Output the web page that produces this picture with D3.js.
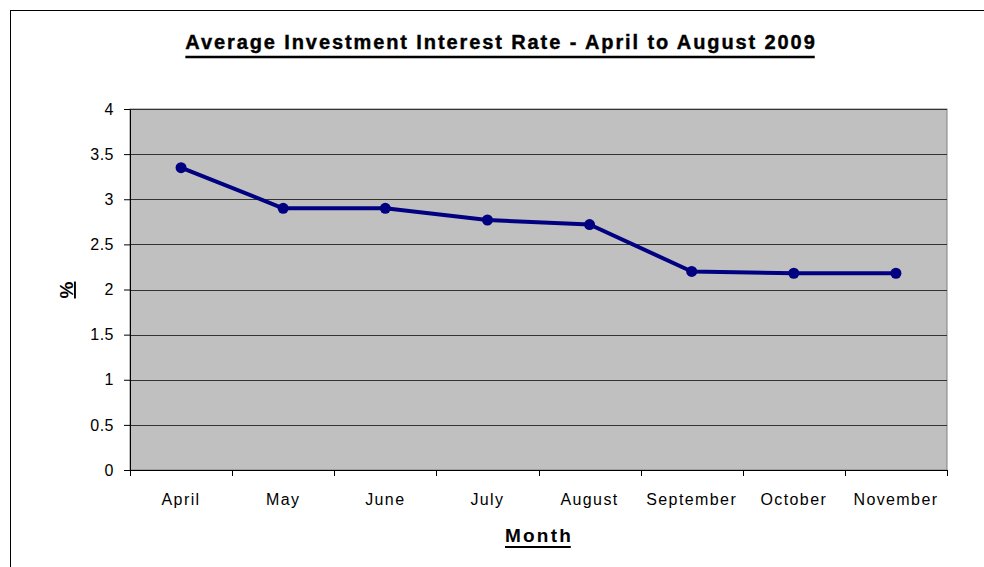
<!DOCTYPE html>
<html><head><meta charset="utf-8">
<script src="https://cdn.jsdelivr.net/npm/d3@7"></script>
<style>body{margin:0;background:#fff}svg{display:block;font-family:"Liberation Sans",Arial,sans-serif}</style>
</head><body><svg id="c" width="984" height="567"></svg>
<script>
const categories = ["April","May","June","July","August","September","October","November"];
const values = [3.35, 2.90, 2.90, 2.77, 2.72, 2.20, 2.18, 2.18];
const yTicks = [0,0.5,1,1.5,2,2.5,3,3.5,4];
const yTickLabels = ["0","0.5","1","1.5","2","2.5","3","3.5","4"];

const svg = d3.select("#c");
const L=130, R=947, T=109, B=470;
svg.append("rect").attr("x",10.5).attr("y",10.5).attr("width",990).attr("height",600).attr("fill","none").attr("stroke","#000").attr("stroke-width",1);
const x = d3.scaleBand().domain(categories).range([L,R]);
const y = d3.scaleLinear().domain([0,4]).range([B,T]);

svg.append("rect").attr("x",L).attr("y",T).attr("width",R-L).attr("height",B-T).attr("fill","#c0c0c0").attr("stroke","#808080").attr("stroke-width",1);
svg.append("g").selectAll("line").data(yTicks.slice(1)).join("line")
  .attr("x1",L).attr("x2",R).attr("y1",d=>Math.round(y(d))+0.5).attr("y2",d=>Math.round(y(d))+0.5)
  .attr("stroke","#333").attr("stroke-width",1);

const ya = d3.axisLeft(y).tickValues(yTicks).tickFormat((d,i)=>yTickLabels[i]).tickSize(6).tickSizeOuter(0).tickPadding(10);
const gy = svg.append("g").attr("transform",`translate(${L},0)`).call(ya);
gy.attr("font-size",16).attr("font-family","Liberation Sans, Arial");
gy.selectAll("text").attr("fill","#000").attr("letter-spacing",0.5);
gy.selectAll("path,line").attr("stroke","#000");

// x axis
const gx = svg.append("g");
gx.append("line").attr("x1",L).attr("x2",R).attr("y1",B+0.5).attr("y2",B+0.5).attr("stroke","#000");
const bounds = categories.map(c=>x(c)).concat([R]);
gx.selectAll("line.t").data(bounds).join("line").attr("class","t")
  .attr("x1",d=>Math.round(d)+0.5).attr("x2",d=>Math.round(d)+0.5).attr("y1",B).attr("y2",B+6).attr("stroke","#000");
gx.selectAll("text").data(categories).join("text")
  .attr("x",d=>x(d)+x.bandwidth()/2).attr("y",B+35).attr("text-anchor","middle")
  .attr("font-size",16).attr("letter-spacing",1.4).attr("fill","#000").text(d=>d);

// line
const line = d3.line().x((d,i)=>x(categories[i])+x.bandwidth()/2).y(d=>y(d));
svg.append("path").datum(values).attr("d",line).attr("fill","none").attr("stroke","#000080").attr("stroke-width",4).attr("stroke-linejoin","round");
svg.append("g").selectAll("circle").data(values).join("circle")
  .attr("cx",(d,i)=>x(categories[i])+x.bandwidth()/2).attr("cy",d=>y(d)).attr("r",5.5).attr("fill","#000080");

// titles
const title = svg.append("text").attr("x",501).attr("y",49).attr("text-anchor","middle").attr("font-size",20).attr("font-weight","bold")
  .attr("letter-spacing",1.9).attr("stroke","#000").attr("stroke-width",0.4).text("Average Investment Interest Rate - April to August 2009");
const tb = title.node().getBBox();
svg.append("line").attr("x1",tb.x).attr("x2",tb.x+tb.width-1.9).attr("y1",57).attr("y2",57).attr("stroke","#000").attr("stroke-width",2.5);
const mt = svg.append("text").attr("x",539).attr("y",542).attr("text-anchor","middle").attr("font-size",19).attr("font-weight","bold")
  .attr("letter-spacing",2.2).text("Month");
const mb = mt.node().getBBox();
svg.append("line").attr("x1",mb.x).attr("x2",mb.x+mb.width-2.2).attr("y1",547).attr("y2",547).attr("stroke","#000").attr("stroke-width",2);
svg.append("text").attr("transform","translate(73,290) rotate(-90)").attr("text-anchor","middle").attr("font-size",19).attr("font-weight","bold")
  .attr("text-decoration","underline").text("%");
</script></body></html>
